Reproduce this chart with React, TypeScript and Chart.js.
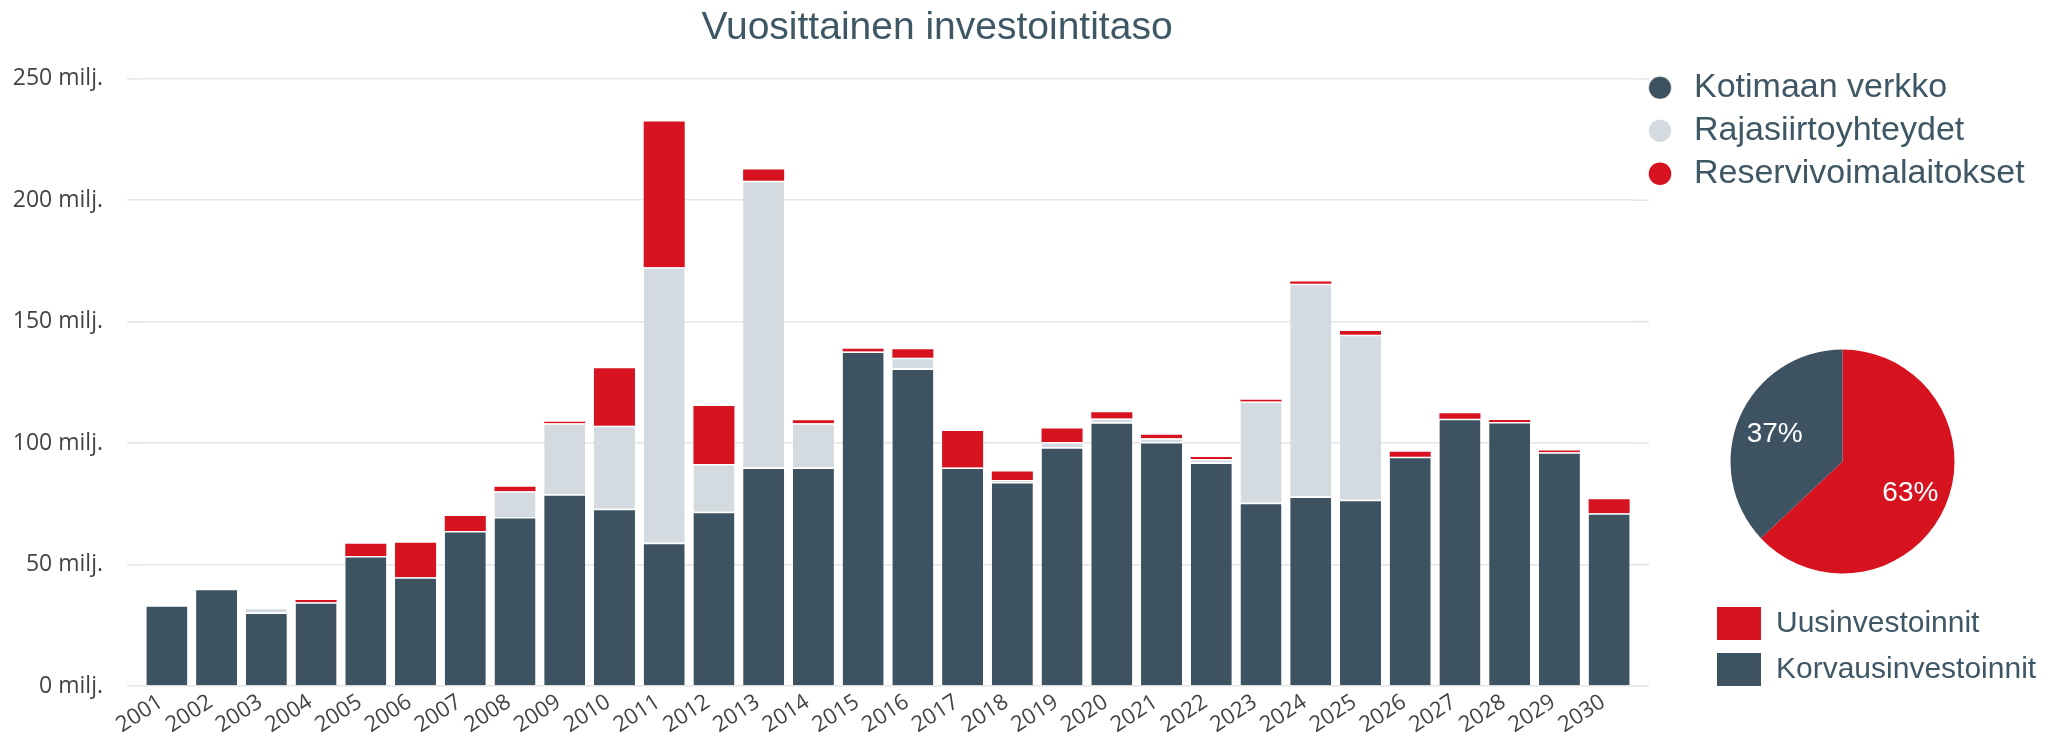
import React, { useEffect, useRef } from 'react';
import { Chart, registerables } from 'chart.js';

Chart.register(...registerables);

// ---- Data ----
const years = [
  '2001', '2002', '2003', '2004', '2005', '2006', '2007', '2008', '2009', '2010',
  '2011', '2012', '2013', '2014', '2015', '2016', '2017', '2018', '2019', '2020',
  '2021', '2022', '2023', '2024', '2025', '2026', '2027', '2028', '2029', '2030',
];
const kotimaanVerkko = [
  33.2, 40, 30.3, 34.5, 53.5, 44.8, 63.8, 69.6, 79, 73,
  59, 71.7, 90, 90, 137.7, 130.7, 90, 84, 98.3, 108.6,
  100.5, 92, 75.5, 78, 76.7, 94.4, 110, 108.7, 96.2, 71.1,
];
const rajasiirtoyhteydet = [
  0, 0, 1.9, 0, 0, 0, 0, 10.6, 29.2, 34.2,
  113.4, 19.7, 118, 18.2, 0, 4.5, 0, 0.8, 2.2, 1.5,
  1.5, 1.5, 41.6, 87.6, 67.9, 0, 0, 0, 0, 0,
];
const reservivoimalaitokset = [
  0, 0, 0, 0.9, 5.1, 14.2, 6.2, 1.8, 0.6, 23.6,
  60, 23.9, 4.7, 1.2, 1.2, 3.4, 15, 3.5, 5.5, 2.6,
  1.4, 0.8, 0.8, 0.9, 1.6, 2, 2.3, 0.8, 0.8, 5.8,
];
const yTickValues = [0, 50, 100, 150, 200, 250];
const pieLabels = ['Uusinvestoinnit', 'Korvausinvestoinnit'];
const pieValues = [63, 37];

const seriesNames = ['Kotimaan verkko', 'Rajasiirtoyhteydet', 'Reservivoimalaitokset'];
const titleText = 'Vuosittainen investointitaso';

// ---- Styles ----
const DARK = '#3e5361';
const LIGHT = '#d3dbe0';
const RED = '#d6131f';
const TEXT = '#3f5765';
const AXIS_TEXT = '#444444';
const GRID = '#e6e6e6';
const ARIAL = '"Liberation Sans", Arial, sans-serif';
const AXIS_FONT = '"Open Sans", "Segoe UI", sans-serif';

// let legend text run past the legend box (Chart.js clips to the box)
const legendUnclip = {
  id: 'legendUnclip',
  afterLayout(chart: any) {
    const l = chart.legend;
    if (l) {
      l.right = chart.width;
      l.width = l.right - l.left;
    }
  },
};

// gridlines run slightly beyond the plot area on the right
const gridExtend = {
  id: 'gridExtend',
  beforeDatasetsDraw(chart: any) {
    const { ctx, chartArea } = chart;
    const y = chart.scales.y;
    ctx.save();
    ctx.strokeStyle = GRID;
    ctx.lineWidth = 1.6;
    y.ticks.forEach((t: any) => {
      const py = y.getPixelForValue(t.value);
      ctx.beginPath();
      ctx.moveTo(chartArea.right, py);
      ctx.lineTo(chartArea.right + 15, py);
      ctx.stroke();
    });
    ctx.restore();
  },
};

const pieLabelPlugin = {
  id: 'pieLabelPlugin',
  afterDatasetsDraw(chart: any) {
    const { ctx } = chart;
    const meta = chart.getDatasetMeta(0);
    const data = chart.data.datasets[0].data as number[];
    const total = data.reduce((a, b) => a + b, 0);
    ctx.save();
    ctx.font = `28px ${ARIAL}`;
    ctx.fillStyle = '#ffffff';
    ctx.textAlign = 'center';
    ctx.textBaseline = 'middle';
    meta.data.forEach((arc: any, i: number) => {
      const p = arc.getProps(['x', 'y', 'startAngle', 'endAngle', 'outerRadius'], true);
      const mid = (p.startAngle + p.endAngle) / 2;
      const r = p.outerRadius * 0.66;
      ctx.fillText(`${Math.round((data[i] / total) * 100)}%`, p.x + Math.cos(mid) * r, p.y + Math.sin(mid) * r + 2);
    });
    ctx.restore();
  },
};

export default function App() {
  const barRef = useRef<HTMLCanvasElement | null>(null);
  const pieRef = useRef<HTMLCanvasElement | null>(null);

  useEffect(() => {
    document.body.style.margin = '0';
    const segBorder = { top: 1.5, left: 0, right: 0, bottom: 0 };
    const bar = new Chart(barRef.current as HTMLCanvasElement, {
      type: 'bar',
      data: {
        labels: years,
        datasets: [
          {
            label: seriesNames[0],
            data: kotimaanVerkko,
            backgroundColor: DARK,
            borderColor: '#ffffff',
            borderWidth: segBorder,
            borderSkipped: false,
            barPercentage: 0.825,
            categoryPercentage: 1,
          },
          {
            label: seriesNames[1],
            data: rajasiirtoyhteydet,
            backgroundColor: LIGHT,
            borderColor: '#ffffff',
            borderWidth: segBorder,
            borderSkipped: false,
            barPercentage: 0.825,
            categoryPercentage: 1,
          },
          {
            label: seriesNames[2],
            data: reservivoimalaitokset,
            backgroundColor: RED,
            borderColor: RED,
            borderWidth: 0,
            barPercentage: 0.825,
            categoryPercentage: 1,
          },
        ],
      },
      options: {
        animation: false,
        responsive: true,
        maintainAspectRatio: false,
        layout: { padding: { left: 0, right: 183, top: 0, bottom: 0 } },
        plugins: {
          tooltip: { enabled: false },
          title: {
            display: true,
            text: titleText,
            color: TEXT,
            font: { family: ARIAL, size: 39, weight: 'normal' as any, lineHeight: 1.2 },
            padding: { top: 5, bottom: 10 },
          },
          legend: {
            display: true,
            position: 'right',
            align: 'start',
            fullSize: false,
            maxWidth: 240,
            labels: {
              usePointStyle: true,
              pointStyle: 'circle',
              boxWidth: 34,
              boxHeight: 16,
              padding: 9,
              color: TEXT,
              font: { family: ARIAL, size: 34 },
            },
          },
        },
        scales: {
          x: {
            stacked: true,
            grid: { display: false },
            border: { display: false },
            ticks: {
              autoSkip: false,
              minRotation: 33,
              maxRotation: 33,
              padding: -5,
              labelOffset: -6,
              color: AXIS_TEXT,
              font: { family: AXIS_FONT, size: 22 },
            },
            afterFit: (s: any) => {
              s.height = 54;
            },
          },
          y: {
            stacked: true,
            min: 0,
            max: 257,
            border: { display: false },
            grid: {
              color: GRID,
              lineWidth: 1.6,
              drawTicks: true,
              tickLength: 15,
              tickColor: GRID,
              tickWidth: 1.6,
            },
            ticks: {
              padding: 24,
              color: AXIS_TEXT,
              font: { family: AXIS_FONT, size: 23 },
              callback: (v: any) => `${v} milj.`,
            },
            afterBuildTicks: (s: any) => {
              s.ticks = yTickValues.map((v) => ({ value: v }));
            },
            afterFit: (s: any) => {
              s.width = 142;
            },
          },
        },
      },
      plugins: [legendUnclip, gridExtend],
    });

    const pie = new Chart(pieRef.current as HTMLCanvasElement, {
      type: 'pie',
      data: {
        labels: pieLabels,
        datasets: [
          {
            data: pieValues,
            backgroundColor: [RED, DARK],
            borderWidth: 0,
            radius: 112,
          },
        ],
      },
      options: {
        animation: false,
        responsive: true,
        maintainAspectRatio: false,
        layout: { padding: { left: 4, right: 76, top: 329, bottom: 44 } },
        plugins: {
          tooltip: { enabled: false },
          legend: {
            display: true,
            position: 'bottom',
            align: 'start',
            labels: {
              boxWidth: 44,
              boxHeight: 33,
              padding: 13,
              color: TEXT,
              font: { family: ARIAL, size: 30 },
            },
          },
        },
      },
      plugins: [pieLabelPlugin, legendUnclip],
    });

    return () => {
      bar.destroy();
      pie.destroy();
    };
  }, []);

  return (
    <div style={{ position: 'absolute', left: 0, top: 0, width: 2057, height: 740, background: '#ffffff' }}>
      <div style={{ position: 'absolute', left: 0, top: 0, width: 2057, height: 740 }}>
        <canvas ref={barRef} />
      </div>
      <div style={{ position: 'absolute', left: 1700, top: 0, width: 357, height: 740 }}>
        <canvas ref={pieRef} />
      </div>
    </div>
  );
}
